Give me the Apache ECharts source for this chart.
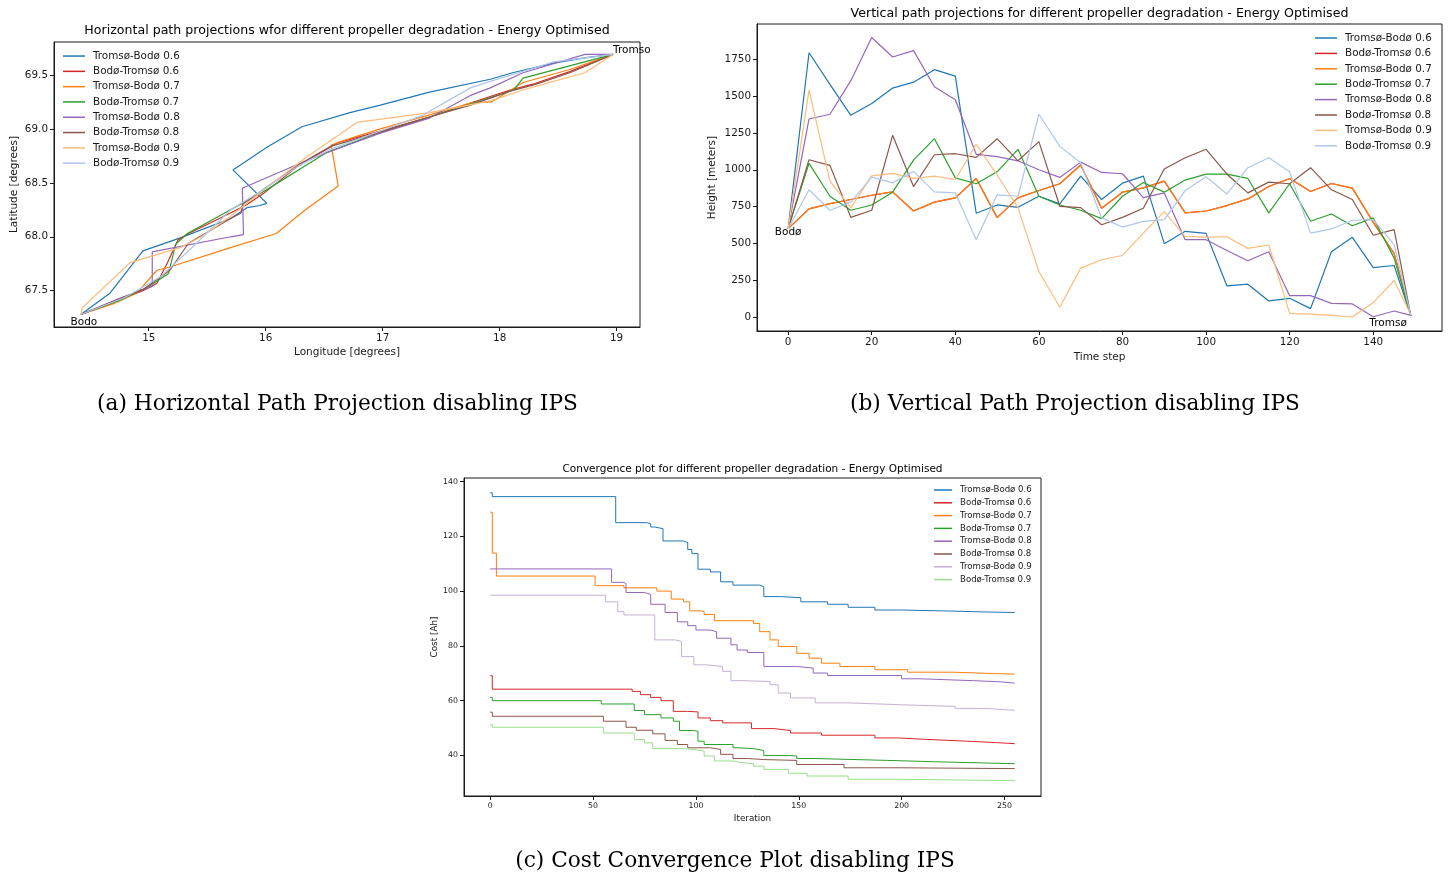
<!DOCTYPE html>
<html><head><meta charset="utf-8">
<script src="https://cdn.jsdelivr.net/npm/echarts@6/dist/echarts.min.js"></script>
<style>html,body{margin:0;padding:0;background:#fff}#c{width:1453px;height:877px}</style>
</head><body><div id="c"></div>
<script>
// ---------- shared ----------
const NAMES = ['Tromsø-Bodø 0.6','Bodø-Tromsø 0.6','Tromsø-Bodø 0.7','Bodø-Tromsø 0.7','Tromsø-Bodø 0.8','Bodø-Tromsø 0.8','Tromsø-Bodø 0.9','Bodø-Tromsø 0.9'];
const COLORS_AB = ['#1f77b4','#d62728','#ff7f0e','#2ca02c','#9467bd','#8c564b','#ffbb78','#aec7e8'];
const COLORS_C  = ['#1f77b4','#d62728','#ff7f0e','#2ca02c','#9467bd','#8c564b','#c5b0d5','#98df8a'];

// ---------- (a) horizontal paths [longitude, latitude] ----------
const A_TB06 = [[14.42,67.28],[14.67,67.48],[14.95,67.87],[15.27,67.99],[15.70,68.17],[15.84,68.27],[15.95,68.29],[16.01,68.31],[15.72,68.62],[16.01,68.83],[16.31,69.02],[16.72,69.15],[16.98,69.22],[17.40,69.34],[17.92,69.46],[18.11,69.52],[18.46,69.61],[18.74,69.66],[18.97,69.69]];
const A_BT06 = [[14.42,67.28],[14.75,67.42],[14.95,67.50],[15.04,67.55],[15.07,67.57],[15.16,67.76],[15.25,67.97],[15.34,68.03],[15.66,68.20],[15.84,68.30],[15.98,68.40],[16.27,68.65],[16.61,68.87],[16.98,68.98],[17.40,69.11],[17.75,69.24],[18.09,69.36],[18.30,69.42],[18.60,69.53],[18.97,69.69]];
const A_TB07 = [[14.42,67.28],[14.70,67.38],[14.90,67.48],[15.07,67.69],[15.18,67.72],[15.70,67.90],[16.09,68.03],[16.34,68.25],[16.62,68.47],[16.56,68.85],[16.69,68.90],[16.98,69.00],[17.40,69.13],[17.75,69.24],[17.93,69.25],[18.20,69.43],[18.60,69.55],[18.97,69.69]];
const A_BT07 = [[14.42,67.28],[14.75,67.41],[15.00,67.54],[15.17,67.66],[15.23,67.93],[15.33,68.03],[15.70,68.25],[16.00,68.43],[16.52,68.78],[16.98,68.97],[17.40,69.11],[17.75,69.23],[18.12,69.36],[18.20,69.47],[18.97,69.69]];
const A_TB08 = [[14.42,67.28],[14.75,67.43],[15.03,67.54],[15.03,67.86],[15.70,68.00],[15.81,68.02],[15.80,68.45],[16.27,68.67],[16.55,68.79],[16.98,68.96],[17.40,69.10],[17.75,69.31],[17.92,69.38],[18.20,69.52],[18.73,69.69],[18.97,69.69]];
const A_BT08 = [[14.42,67.28],[14.95,67.51],[15.18,67.69],[15.34,67.94],[15.70,68.17],[15.79,68.22],[15.80,68.30],[16.27,68.66],[16.56,68.84],[16.98,68.97],[17.40,69.11],[17.75,69.22],[18.09,69.35],[18.30,69.41],[18.60,69.52],[18.97,69.69]];
const A_TB09 = [[14.42,67.28],[14.43,67.34],[14.84,67.76],[15.27,67.90],[15.45,68.00],[15.70,68.19],[16.00,68.45],[16.35,68.74],[16.78,69.06],[17.40,69.15],[17.92,69.26],[18.20,69.36],[18.46,69.44],[18.73,69.52],[18.97,69.69]];
const A_BT09 = [[14.42,67.28],[14.80,67.44],[15.10,67.63],[15.38,67.91],[15.70,68.25],[16.00,68.45],[16.27,68.65],[16.55,68.81],[16.98,68.98],[17.35,69.13],[17.75,69.38],[17.92,69.44],[18.46,69.62],[18.75,69.66],[18.97,69.69]];
const A_XTICKS = [15,16,17,18,19];
const A_YTICKS = [67.5,68.0,68.5,69.0,69.5];
const A_BODO = [14.42,67.28];
const A_TROMSO = [18.97,69.69];

// ---------- (b) vertical paths ----------
const B_T = [0,5,10,15,20,25,30,35,40,45,50,55,60,65,70,75,80,85,90,95,100,105,110,115,120,125,130,135,140,145,149];
const B_TB06 = [600,1795,1580,1370,1450,1555,1595,1680,1636,705,761,745,820,768,957,798,909,957,498,582,568,211,223,109,127,57,443,541,336,350,8];
const B_BT06 = [600,734,770,798,827,850,720,780,809,941,675,809,859,905,1032,739,848,877,923,707,720,757,802,886,941,852,907,875,643,430,8];
const B_TB07 = [600,734,770,798,827,850,720,780,809,941,675,809,859,905,1032,739,848,877,923,707,720,757,802,886,941,852,907,875,643,430,8];
const B_BT07 = [600,1043,820,725,761,848,1066,1211,945,905,986,1139,820,761,725,668,820,914,848,930,970,970,941,707,905,650,700,620,673,400,8];
const B_TB08 = [600,1345,1377,1605,1898,1766,1809,1564,1475,1105,1089,1061,1000,948,1052,982,973,811,843,525,525,452,382,443,145,145,93,89,2,41,11];
const B_BT08 = [600,1068,1030,677,725,1234,886,1102,1109,1084,1211,1061,1191,752,743,627,677,739,1005,1082,1139,970,843,916,905,1014,864,798,555,593,8];
const B_TB09 = [600,1541,923,743,959,975,941,957,934,1173,966,741,309,66,332,389,418,570,716,548,543,545,466,489,25,20,11,0,98,248,14];
const B_BT09 = [600,864,725,780,950,911,989,850,843,525,830,820,1377,1159,1048,673,611,650,661,859,952,836,1014,1082,986,570,598,657,661,491,9];
const B_XTICKS = [0,20,40,60,80,100,120,140];
const B_YTICKS = [0,250,500,750,1000,1250,1500,1750];

// ---------- (c) convergence [iteration, cost] ----------
const C_TB06 = [[0,135.9],[1,134.5],[61,125.0],[76,124.6],[78,123.4],[80,122.8],[84,118.3],[94,117.7],[96,115.2],[98,113.7],[101,108],[107,107],[112,103.4],[118,102.2],[131,101.6],[133,98],[141,97.6],[151,96.1],[164,95.2],[174,94.1],[187,93.1],[200,92.7],[225,92.4],[240,92.2],[255,92.2]];
const C_BT06 = [[0,69.1],[1,64.2],[69,63.4],[73,62.2],[78,61.2],[83,60],[89,56.1],[96,55.9],[101,53.7],[107,52.7],[113,51.9],[127,49.8],[138,49.1],[146,48.2],[161,47.4],[187,46.4],[198,45.9],[211,45.2],[232,44.7],[246,44.3],[255,44.3]];
const C_TB07 = [[0,128.8],[1,113.9],[3,105.5],[51,102],[65,101.2],[81,100],[88,97.1],[94,96.1],[97,92.8],[102,92.5],[104,91.5],[109,89.2],[128,88.2],[131,85.2],[136,82.2],[140,79.8],[149,77.3],[155,75.5],[161,73.7],[170,72.5],[187,71.3],[203,70.4],[225,69.9],[245,69.7],[255,69.7]];
const C_BT07 = [[0,61.2],[1,60],[54,58.8],[70,56.4],[75,54.9],[83,53.7],[89,52.5],[92,49.1],[99,48.8],[101,45.2],[104,44],[118,42.8],[120,42.5],[128,41.8],[133,40],[145,39.8],[149,38.9],[157,38.2],[193,37.7],[216,37],[255,37]];
const C_TB08 = [[0,108.1],[59,103.2],[65,102.7],[66,99.5],[75,98.8],[78,95.2],[85,92.2],[91,88.8],[96,87.4],[100,85.8],[107,85.2],[110,82.8],[117,80.4],[120,78.5],[125,77.6],[133,72.5],[149,71.9],[157,70.1],[164,69.2],[200,68],[209,67.3],[235,66.9],[248,66.4],[255,66.4]];
const C_BT08 = [[0,55.8],[1,54.3],[55,52.5],[66,50.3],[71,49.2],[79,47.9],[85,45.5],[91,44],[96,42.8],[107,42.2],[112,40.4],[118,38.9],[125,38.5],[133,38.2],[149,36.7],[172,35.5],[200,35.2],[255,35.2]];
const C_TB09 = [[0,98.5],[56,96.1],[62,92.5],[65,91.3],[80,82.2],[90,81.6],[93,76.1],[99,73.1],[105,72.5],[113,70.7],[117,67.3],[122,67],[136,65.8],[140,62.8],[146,61],[158,59.2],[174,58.5],[200,57.9],[226,57.1],[242,56.5],[255,56.5]];
const C_BT09 = [[0,51.3],[1,50.3],[55,48.2],[70,45.8],[75,44.6],[79,42.5],[94,42.2],[99,41.6],[104,39.8],[109,38],[118,37.3],[123,37],[128,36.1],[133,34.9],[145,33.5],[154,32.5],[174,31.3],[200,30.8],[255,30.8]];
const C_XTICKS = [0,50,100,150,200,250];
const C_YTICKS = [40,60,80,100,120,140];

// ---------- chart ----------
const FONT = 'DejaVu Sans';
const INK = '#1a1a1a';
const A_SERIES = [A_TB06,A_BT06,A_TB07,A_BT07,A_TB08,A_BT08,A_TB09,A_BT09];
const B_SERIES = [B_TB06,B_BT06,B_TB07,B_BT07,B_TB08,B_BT08,B_TB09,B_BT09];
const C_SERIES = [C_TB06,C_BT06,C_TB07,C_BT07,C_TB08,C_BT08,C_TB09,C_BT09];

function axis(grid, min, max, ticks, fmt, fs, name, gap, nfs) {
  return {
    gridIndex: grid, type: 'value', min: min, max: max, scale: true,
    axisLine: {show: true, onZero: false, lineStyle: {color: INK, width: 1}},
    splitLine: {show: false},
    axisTick: {show: true, length: 4, customValues: ticks, lineStyle: {color: INK, width: 1}},
    axisLabel: {customValues: ticks, formatter: fmt, fontSize: fs, fontFamily: FONT, color: INK, margin: 6},
    name: name, nameLocation: 'middle', nameGap: gap,
    nameTextStyle: {fontSize: nfs, fontFamily: FONT, color: INK}
  };
}

const series = [];
A_SERIES.forEach((d, i) => series.push({name: 'A:' + NAMES[i], type: 'line', xAxisIndex: 0, yAxisIndex: 0, data: d, showSymbol: false, symbol: 'none', lineStyle: {width: 1.2, color: COLORS_AB[i]}, itemStyle: {color: COLORS_AB[i]}, z: 2 + i}));
B_SERIES.forEach((d, i) => series.push({name: 'B:' + NAMES[i], type: 'line', xAxisIndex: 1, yAxisIndex: 1, data: B_T.map((t, k) => [t, d[k]]), showSymbol: false, symbol: 'none', lineStyle: {width: 1.2, color: COLORS_AB[i]}, itemStyle: {color: COLORS_AB[i]}, z: 2 + i}));
C_SERIES.forEach((d, i) => series.push({name: 'C:' + NAMES[i], type: 'line', xAxisIndex: 2, yAxisIndex: 2, data: d, step: 'end', showSymbol: false, symbol: 'none', lineStyle: {width: 1, color: COLORS_C[i]}, itemStyle: {color: COLORS_C[i]}, z: 2 + i}));

function legend(prefix, left, top, fs, lh, iw) {
  return {
    orient: 'vertical', left: left, top: top, padding: 0, itemGap: 0,
    itemWidth: iw, itemHeight: 1.5, icon: 'rect',
    data: NAMES.map(n => prefix + n),
    formatter: n => n.slice(2),
    textStyle: {fontFamily: FONT, fontSize: fs, color: INK, lineHeight: lh, padding: [0, 0, 0, 3]}
  };
}

const gridStyle = {show: true, borderColor: INK, borderWidth: 1, backgroundColor: 'transparent', containLabel: false};
const option = {
  animation: false,
  backgroundColor: '#ffffff',
  grid: [
    Object.assign({left: 54, top: 42, width: 586, height: 285}, gridStyle),
    Object.assign({left: 757, top: 24, width: 685, height: 307}, gridStyle),
    Object.assign({left: 464, top: 478, width: 577, height: 318}, gridStyle)
  ],
  xAxis: [
    axis(0, 14.19, 19.2, A_XTICKS, v => String(v), 10.4, 'Longitude [degrees]', 20, 10.5),
    axis(1, -7.45, 156.45, B_XTICKS, v => String(v), 10.4, 'Time step', 21, 10.5),
    axis(2, -12.75, 267.75, C_XTICKS, v => String(v), 7.8, 'Iteration', 18, 8.8)
  ],
  yAxis: [
    axis(0, 67.164, 69.805, A_YTICKS, v => v.toFixed(1), 10.4, 'Latitude [degrees]', 34, 10.5),
    axis(1, -95, 1990, B_YTICKS, v => String(v), 10.4, 'Height [meters]', 39, 10.5),
    axis(2, 25.2, 141.3, C_YTICKS, v => String(v), 7.8, 'Cost [Ah]', 24, 8.8)
  ],
  legend: [
    legend('A:', 63, 48.4, 10.4, 15.3, 22),
    legend('B:', 1315, 30.3, 10.4, 15.4, 22),
    legend('C:', 934, 483.6, 8.6, 12.8, 18)
  ],
  series: series
};

const chart = echarts.init(document.getElementById('c'), null, {renderer: 'canvas'});
chart.setOption(option);

function txt(x, y, text, size, align, family) {
  return {type: 'text', x: x, y: y, z: 100, silent: true,
    style: {text: text, fontSize: size, fontFamily: family || FONT, fill: '#000', align: align || 'center', verticalAlign: 'middle'}};
}
const pA0 = chart.convertToPixel({gridIndex: 0}, A_BODO);
const pA1 = chart.convertToPixel({gridIndex: 0}, A_TROMSO);
const pB0 = chart.convertToPixel({gridIndex: 1}, [B_T[0], B_TB06[0]]);
const pB1 = chart.convertToPixel({gridIndex: 1}, [B_T[B_T.length - 1], 0]);
const SERIF = 'DejaVu Serif';
chart.setOption({graphic: {elements: [
  txt(347, 31, 'Horizontal path projections wfor different propeller degradation - Energy Optimised', 12.6),
  txt(1099.5, 14, 'Vertical path projections for different propeller degradation - Energy Optimised', 12.6),
  txt(752.5, 469, 'Convergence plot for different propeller degradation - Energy Optimised', 10.5),
  txt(pA0[0] + 3, pA0[1] + 8, 'Bodo', 10.5),
  txt(pA1[0], pA1[1] - 4, 'Tromso', 10.5, 'left'),
  txt(pB0[0], pB0[1] + 4, 'Bodø', 10.5),
  txt(pB1[0] - 4, pB1[1] + 6, 'Tromsø', 10.5, 'right'),
  txt(337.5, 404, '(a) Horizontal Path Projection disabling IPS', 21.7, 'center', SERIF),
  txt(1075, 404, '(b) Vertical Path Projection disabling IPS', 21.7, 'center', SERIF),
  txt(735, 861, '(c) Cost Convergence Plot disabling IPS', 21.7, 'center', SERIF)
]}});
</script>
</body></html>
